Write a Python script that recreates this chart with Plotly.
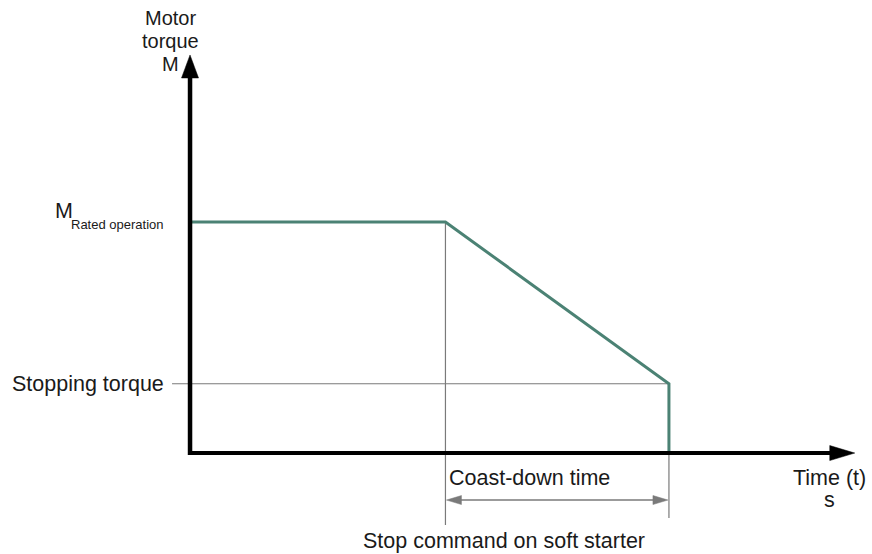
import plotly.graph_objects as go

# Torque profile during a soft stop (time in s, torque relative to rated torque)
t_stop_cmd = 4.0          # stop command on soft starter
t_end = 7.5               # end of coast-down
m_rated = 1.0             # M rated operation
m_stop = 0.30             # stopping torque

profile_t = [0.0, t_stop_cmd, t_end, t_end]
profile_m = [m_rated, m_rated, m_stop, 0.0]

# Axis extents and tips
x_range = [-2.976, 10.68]
y_range = [-0.437, 1.961]
x_tip = 10.41
y_tip = 1.723

W, H = 872, 554
px_x = W / (x_range[1] - x_range[0])   # pixels per time unit
px_y = H / (y_range[1] - y_range[0])   # pixels per torque unit

GREEN = "#4b8274"
GRAY = "#7a7a7a"
FONT = "Liberation Sans, Arial, sans-serif"

fig = go.Figure()

# Guide lines (thin gray)
fig.add_trace(go.Scatter(
    x=[-18 / px_x, t_end], y=[m_stop, m_stop], mode="lines",
    line=dict(color=GRAY, width=1.2), hoverinfo="skip", showlegend=False))
fig.add_trace(go.Scatter(
    x=[t_stop_cmd, t_stop_cmd], y=[m_rated, -72 / px_y], mode="lines",
    line=dict(color=GRAY, width=1.2), hoverinfo="skip", showlegend=False))
fig.add_trace(go.Scatter(
    x=[t_end, t_end], y=[m_stop, -65 / px_y], mode="lines",
    line=dict(color=GRAY, width=1.2), hoverinfo="skip", showlegend=False))

# Torque curve
fig.add_trace(go.Scatter(
    x=profile_t, y=profile_m, mode="lines",
    line=dict(color=GREEN, width=3), hoverinfo="skip", showlegend=False))

shapes = []
# Axes shafts
shapes.append(dict(type="line", xref="x", yref="y", x0=0, y0=-2 / px_y, x1=0,
                   y1=y_tip - 20 / px_y, line=dict(color="black", width=4.5)))
shapes.append(dict(type="line", xref="x", yref="y", x0=-2 / px_x, y0=0,
                   x1=x_tip - 22 / px_x, y1=0, line=dict(color="black", width=4)))


def tri(tx, ty, dx, dy, length, half):
    """Filled triangle path with tip at (tx, ty) pointing along (dx, dy) in pixels."""
    bx = tx - dx * length / px_x
    by = ty - dy * length / px_y
    ox, oy = -dy * half / px_x, dx * half / px_y
    return (f"M {tx},{ty} L {bx + ox},{by + oy} L {bx - ox},{by - oy} Z")


shapes.append(dict(type="path", xref="x", yref="y", path=tri(0, y_tip, 0, 1, 23, 8.5),
                   fillcolor="black", line=dict(color="black", width=0.5)))
shapes.append(dict(type="path", xref="x", yref="y", path=tri(x_tip, 0, 1, 0, 25, 7.5),
                   fillcolor="black", line=dict(color="black", width=0.5)))

# Coast-down time dimension arrow
y_dim = -47 / px_y
shapes.append(dict(type="line", xref="x", yref="y", x0=t_stop_cmd + 8 / px_x, y0=y_dim,
                   x1=t_end - 8 / px_x, y1=y_dim, line=dict(color=GRAY, width=1.5)))
shapes.append(dict(type="path", xref="x", yref="y",
                   path=tri(t_stop_cmd + 1 / px_x, y_dim, -1, 0, 15, 4.5),
                   fillcolor=GRAY, line=dict(color=GRAY, width=0.5)))
shapes.append(dict(type="path", xref="x", yref="y",
                   path=tri(t_end - 1 / px_x, y_dim, 1, 0, 15, 4.5),
                   fillcolor=GRAY, line=dict(color=GRAY, width=0.5)))

fs = 21.5
x_label_y = -20 / px_x
x_time = (829 - 190) / px_x
annotations = [
    dict(x=x_label_y, y=(453 - 17.5) / px_y, text="Motor", xanchor="center", size=20),
    dict(x=x_label_y, y=(453 - 40.5) / px_y, text="torque", xanchor="center", size=20),
    dict(x=x_label_y, y=(453 - 63.5) / px_y, text="M", xanchor="center", size=20),
    dict(x=-116 / px_x, y=m_rated + 11.5 / px_y, text="M", xanchor="right"),
    dict(x=-25 / px_x, y=m_rated - 2 / px_y, text="Rated operation", xanchor="right",
         size=13),
    dict(x=-25 / px_x, y=m_stop, text="Stopping torque", xanchor="right"),
    dict(x=t_stop_cmd + 3 / px_x, y=-25 / px_y, text="Coast-down time", xanchor="left"),
    dict(x=x_time, y=-25 / px_y, text="Time (t)", xanchor="center"),
    dict(x=x_time, y=-47 / px_y, text="s", xanchor="center"),
    dict(x=(504 - 190) / px_x, y=-88 / px_y, text="Stop command on soft starter",
         xanchor="center"),
]
for a in annotations:
    size = a.pop("size", fs)
    a.update(xref="x", yref="y", showarrow=False, yanchor="middle", borderpad=0,
             font=dict(family=FONT, size=size, color="#1a1a1a"))

fig.update_layout(
    width=W, height=H,
    margin=dict(l=0, r=0, t=0, b=0),
    paper_bgcolor="white", plot_bgcolor="white",
    xaxis=dict(range=x_range, visible=False, fixedrange=True),
    yaxis=dict(range=y_range, visible=False, fixedrange=True),
    shapes=shapes, annotations=annotations,
    showlegend=False,
)

fig.write_html("out.html")
